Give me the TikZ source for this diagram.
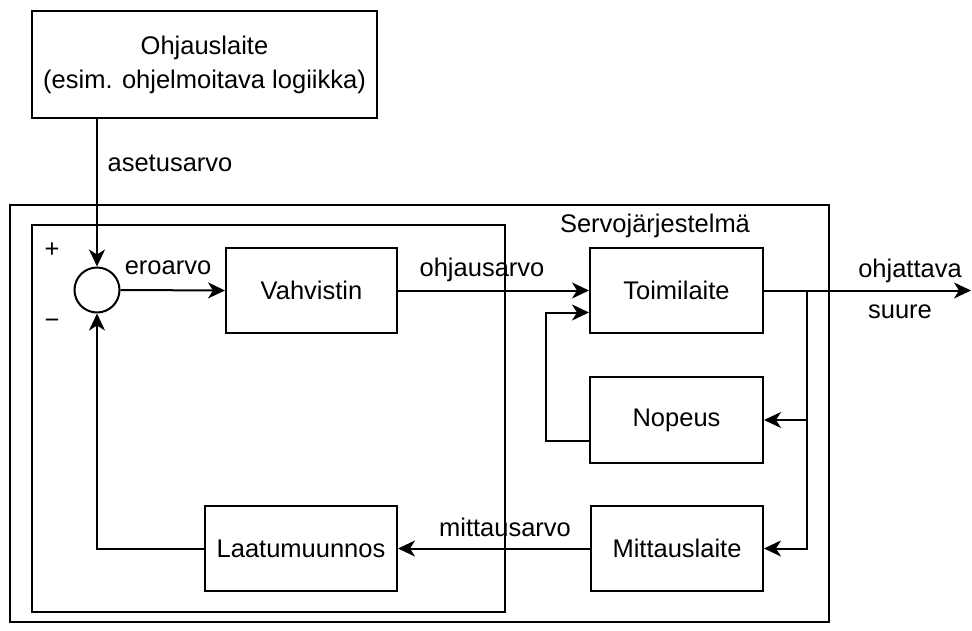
\documentclass[tikz,border=0pt]{standalone}
\usepackage{fontspec}
\setmainfont{Liberation Sans}
\usetikzlibrary{arrows.meta,calc}
\begin{document}
\begin{tikzpicture}[x=1pt,y=-1pt,
  every node/.style={font=\fontsize{25.5}{34}\selectfont},
  blk/.style={draw,line width=2pt,minimum width=172pt,minimum height=85pt,inner sep=0pt,align=center},
  lbl/.style={inner sep=0pt},
  conn/.style={line width=2pt},
  arr/.style={conn,-{Stealth[length=17pt,width=16pt,inset=5pt]}},
  frame/.style={draw,line width=2pt}]
\useasboundingbox (0,0) rectangle (972,631);
\draw[frame] (10,205) rectangle (829,622);
\draw[frame] (32,225) rectangle (505,612);
\node[blk,minimum width=345pt,minimum height=107pt] (ohj) at (204.5,64.5) {Ohjauslaite\\(esim. ohjelmoitava logiikka)};
\node[draw,circle,line width=2pt,minimum size=45pt,inner sep=0pt] (sum) at (97,290) {};
\node[blk,minimum width=171pt] (vah) at (311.5,290.5) {Vahvistin};
\node[blk,minimum width=173pt] (toi) at (676.5,290.5) {Toimilaite};
\node[blk,minimum width=173pt,minimum height=86pt] (nop) at (676.5,420) {Nopeus};
\node[blk] (mit) at (677,548.5) {Mittauslaite};
\node[blk,minimum width=192pt] (laa) at (301,548.5) {Laatumuunnos};
\coordinate (out) at (971,290.5);
\coordinate (br) at (807,290.5);
% labels
\node[lbl] (aset) at (170,163) {asetusarvo};
\node[lbl] (plus) at (52,250) {+};
\node[lbl] (minus) at (52,324) {−};
\node[lbl] (ero) at (168,268) {eroarvo};
\node[lbl] (ohja) at (482,270) {ohjausarvo};
\node[lbl] (servo) at (655,226) {Servojärjestelmä};
\node[lbl] (ohjt) at (910,271) {ohjattava};
\node[lbl] (suure) at (900,312) {suure};
\node[lbl] (mitt) at (505,527) {mittausarvo};
% connectors
\draw[arr] (sum |- ohj.south) -- (sum.north);
\draw[arr] (sum.east) -- (vah.west);
\draw[arr] (vah.east) -- (toi.west);
\draw[arr] (toi.east) -- (out);
\draw[arr] (br) |- (nop.east);
\draw[arr] (br) |- (mit.east);
\draw[arr] ($(nop.west)+(0,21)$) -- ++(-43,0) |- ($(toi.west)+(0,22)$);
\draw[arr] (mit.west) -- (laa.east);
\draw[arr] (laa.west) -| (sum.south);
\end{tikzpicture}
\end{document}
